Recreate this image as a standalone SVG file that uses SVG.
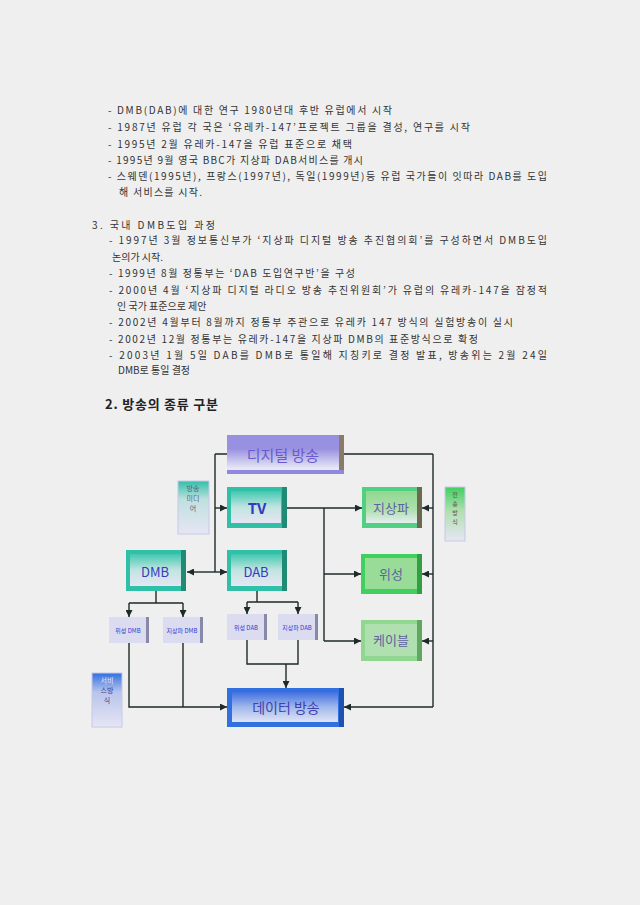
<svg xmlns="http://www.w3.org/2000/svg" width="640" height="905" viewBox="0 0 640 905">
<defs>
<style>
.t{font-family:"Noto Sans CJK KR","Liberation Sans",sans-serif;font-size:10px;fill:#333;}
.h{font-family:"Noto Sans CJK KR","Liberation Sans",sans-serif;font-size:13px;font-weight:bold;fill:#222;}
.bl{font-family:"Noto Sans CJK KR","Liberation Sans",sans-serif;text-anchor:middle;}
.c{fill:none;stroke:#1e2a2a;stroke-width:1.4;}
.ca{fill:none;stroke:#1e2a2a;stroke-width:1.4;marker-end:url(#ah);}
</style>
<marker id="ah" viewBox="0 0 8 8" refX="8" refY="4" markerWidth="5" markerHeight="5" orient="auto"><path d="M0,0 L8,4 L0,8 z" fill="#1e2a2a"/></marker>
<linearGradient id="gP" x1="0" y1="0" x2="0" y2="1"><stop offset="0" stop-color="#9890e0"/><stop offset="0.35" stop-color="#9890e0"/><stop offset="0.85" stop-color="#e6e6f4"/><stop offset="1" stop-color="#e6e6f4"/></linearGradient>
<linearGradient id="gT" x1="0" y1="0" x2="0" y2="1"><stop offset="0" stop-color="#40c8b0"/><stop offset="0.5" stop-color="#c0e4e0"/><stop offset="1" stop-color="#e6e6f4"/></linearGradient>
<linearGradient id="gG" x1="0" y1="0" x2="0" y2="1"><stop offset="0" stop-color="#90d890"/><stop offset="0.6" stop-color="#b0e0b0"/><stop offset="1" stop-color="#e6eef0"/></linearGradient>
<linearGradient id="gB" x1="0" y1="0" x2="0" y2="1"><stop offset="0" stop-color="#4070e0"/><stop offset="0.5" stop-color="#a0b8ec"/><stop offset="1" stop-color="#e0e4f4"/></linearGradient>
<linearGradient id="gL1" x1="0" y1="0" x2="0" y2="1"><stop offset="0" stop-color="#30c0a8"/><stop offset="0.35" stop-color="#c0e0e0"/><stop offset="1" stop-color="#e6e6f4"/></linearGradient>
<linearGradient id="gL2" x1="0" y1="0" x2="0" y2="1"><stop offset="0" stop-color="#40d060"/><stop offset="0.45" stop-color="#b0e0b0"/><stop offset="1" stop-color="#e6e6f4"/></linearGradient>
<linearGradient id="gL3" x1="0" y1="0" x2="0" y2="1"><stop offset="0" stop-color="#3070e0"/><stop offset="0.35" stop-color="#b8c4ec"/><stop offset="1" stop-color="#e6e6f4"/></linearGradient>
</defs>
<rect width="640" height="905" fill="#efefef"/>

<g id="text-history">
<text class="t" x="108" y="114" textLength="284" lengthAdjust="spacing">- DMB(DAB)에 대한 연구 1980년대 후반 유럽에서 시작</text>
<text class="t" x="108" y="131" textLength="362" lengthAdjust="spacing">- 1987년 유럽 각 국은 ‘유레카-147’프로젝트 그룹을 결성, 연구를 시작</text>
<text class="t" x="108" y="148" textLength="244" lengthAdjust="spacing">- 1995년 2월 유레카-147을 유럽 표준으로 채택</text>
<text class="t" x="108" y="164" textLength="255" lengthAdjust="spacing">- 1995년 9월 영국 BBC가 지상파 DAB서비스를 개시</text>
<text class="t" x="108" y="180" textLength="439" lengthAdjust="spacing">- 스웨덴(1995년), 프랑스(1997년), 독일(1999년)등 유럽 국가들이 잇따라 DAB를 도입</text>
<text class="t" x="119" y="196" textLength="83" lengthAdjust="spacing">해 서비스를 시작.</text>
</g>

<g id="text-domestic">
<text class="t" x="92" y="229" textLength="123" lengthAdjust="spacing">3. 국내 DMB도입 과정</text>
<text class="t" x="109" y="244" textLength="438" lengthAdjust="spacing">- 1997년 3월 정보통신부가 ‘지상파 디지털 방송 추진협의회’를 구성하면서 DMB도입</text>
<text class="t" x="112" y="261">논의가 시작.</text>
<text class="t" x="109" y="277" textLength="246" lengthAdjust="spacing">- 1999년 8월 정통부는 ‘DAB 도입연구반’을 구성</text>
<text class="t" x="109" y="294" textLength="438" lengthAdjust="spacing">- 2000년 4월 ‘지상파 디지털 라디오 방송 추진위원회’가 유럽의 유레카-147을 잠정적</text>
<text class="t" x="117" y="310">인 국가 표준으로 제안</text>
<text class="t" x="109" y="326" textLength="404" lengthAdjust="spacing">- 2002년 4월부터 8월까지 정통부 주관으로 유레카 147 방식의 실험방송이 실시</text>
<text class="t" x="109" y="343" textLength="369" lengthAdjust="spacing">- 2002년 12월 정통부는 유레카-147을 지상파 DMB의 표준방식으로 확정</text>
<text class="t" x="109" y="359" textLength="438" lengthAdjust="spacing">- 2003년 1월 5일 DAB를 DMB로 통일해 지칭키로 결정 발표, 방송위는 2월 24일</text>
<text class="t" x="118" y="374">DMB로 통일 결정</text>
</g>

<text class="h" x="105" y="409" textLength="113" lengthAdjust="spacing">2. 방송의 종류 구분</text>

<g id="connectors">
<path class="c" d="M215,454 H227 M344,454 H433"/>
<path class="c" d="M215,454 V572"/>
<path class="ca" d="M215,508 H227"/>
<path class="ca" d="M215,572 H187"/>
<path class="ca" d="M215,572 H227"/>
<path class="ca" d="M287,508 H362"/>
<path class="c" d="M324,508 V641"/>
<path class="ca" d="M324,574 H361"/>
<path class="ca" d="M324,641 H361"/>
<path class="c" d="M433,454 V707"/>
<path class="ca" d="M433,508 H422"/>
<path class="ca" d="M433,574 H422"/>
<path class="ca" d="M433,641 H422"/>
<path class="ca" d="M433,707 H344"/>
<path class="c" d="M156,591 V603 M129,603 H183"/>
<path class="ca" d="M129,603 V617"/>
<path class="ca" d="M183,603 V617"/>
<path class="c" d="M257,591 V602 M247,602 H298"/>
<path class="ca" d="M247,602 V614"/>
<path class="ca" d="M298,602 V614"/>
<path class="c" d="M247,640 V664 H298 V640"/>
<path class="ca" d="M286,664 V688"/>
<path class="c" d="M183,643 V707"/>
<path class="ca" d="M129,643 V707 H227"/>
</g>

<g id="node-digital">
<rect x="227" y="435" width="117" height="39" fill="url(#gP)"/>
<rect x="339" y="435" width="5" height="39" fill="#8a7a6a"/>
<rect x="227" y="470" width="117" height="4" fill="#9088e0"/>
<text class="bl" x="283" y="461" font-size="15" fill="#6a5ad0">디지털 방송</text>
</g>

<g id="node-tv">
<rect x="227" y="487" width="60" height="41" fill="#30c0a8"/>
<rect x="231" y="491" width="50" height="32" fill="url(#gT)"/>
<rect x="282" y="487" width="5" height="41" fill="#208a74"/>
<text class="bl" x="257" y="514" font-size="15" font-weight="bold" fill="#3838c0">TV</text>
</g>

<g id="node-terrestrial">
<rect x="362" y="487" width="60" height="41" fill="#50d080"/>
<rect x="366" y="491" width="51" height="32" fill="url(#gG)"/>
<rect x="417" y="487" width="5" height="41" fill="#6a6a50"/>
<text class="bl" x="391" y="513" font-size="13" fill="#6060a0">지상파</text>
</g>

<g id="node-media-label">
<rect x="178" y="481" width="31" height="53" fill="url(#gL1)" stroke="#c8c8e8" stroke-width="1"/>
<text class="bl" x="193" y="491" font-size="7" fill="#606080">방송</text>
<text class="bl" x="193" y="501" font-size="7" fill="#606080">미디</text>
<text class="bl" x="193" y="511" font-size="7" fill="#606080">어</text>
</g>

<g id="node-transmission-label">
<rect x="445" y="487" width="20" height="54" fill="url(#gL2)" stroke="#c8c8e8" stroke-width="1"/>
<text class="bl" x="455" y="497" font-size="6" fill="#605050">전</text>
<text class="bl" x="455" y="506" font-size="6" fill="#605050">송</text>
<text class="bl" x="455" y="515" font-size="6" fill="#605050">방</text>
<text class="bl" x="455" y="524" font-size="6" fill="#605050">식</text>
</g>

<g id="node-dmb">
<rect x="126" y="550" width="60" height="41" fill="#30c0a8"/>
<rect x="130" y="554" width="51" height="32" fill="url(#gT)"/>
<rect x="181" y="550" width="5" height="41" fill="#208a74"/>
<text class="bl" x="155" y="577" font-size="13" fill="#3838c0">DMB</text>
</g>

<g id="node-dab">
<rect x="227" y="550" width="60" height="41" fill="#30c0a8"/>
<rect x="231" y="554" width="51" height="32" fill="url(#gT)"/>
<rect x="282" y="550" width="5" height="41" fill="#208a74"/>
<text class="bl" x="256" y="577" font-size="13" fill="#3838c0">DAB</text>
</g>

<g id="node-satellite">
<rect x="361" y="554" width="61" height="40" fill="#40d060"/>
<rect x="365" y="558" width="52" height="31" fill="#98dc98"/>
<rect x="417" y="554" width="5" height="40" fill="#30a040"/>
<text class="bl" x="391" y="579" font-size="13" fill="#6060a0">위성</text>
</g>

<g id="node-cable">
<rect x="361" y="620" width="61" height="41" fill="#90d890"/>
<rect x="365" y="624" width="52" height="32" fill="#b0e0b0"/>
<rect x="417" y="620" width="5" height="41" fill="#60a860"/>
<text class="bl" x="391" y="645" font-size="13" fill="#6060a0">케이블</text>
</g>

<g id="node-sat-dmb">
<rect x="109" y="617" width="40" height="26" fill="#dcdcf0"/>
<rect x="146" y="617" width="3" height="26" fill="#8888a8"/>
<text class="bl" x="128" y="633" font-size="6" fill="#3040d0">위성 DMB</text>
</g>

<g id="node-ter-dmb">
<rect x="163" y="617" width="40" height="26" fill="#dcdcf0"/>
<rect x="200" y="617" width="3" height="26" fill="#8888a8"/>
<text class="bl" x="182" y="633" font-size="6" fill="#3040d0">지상파 DMB</text>
</g>

<g id="node-sat-dab">
<rect x="227" y="614" width="40" height="26" fill="#dcdcf0"/>
<rect x="264" y="614" width="3" height="26" fill="#8888a8"/>
<text class="bl" x="246" y="630" font-size="6" fill="#3040d0">위성 DAB</text>
</g>

<g id="node-ter-dab">
<rect x="278" y="614" width="40" height="26" fill="#dcdcf0"/>
<rect x="315" y="614" width="3" height="26" fill="#8888a8"/>
<text class="bl" x="297" y="630" font-size="6" fill="#3040d0">지상파 DAB</text>
</g>

<g id="node-data">
<rect x="227" y="688" width="117" height="39" fill="#3070e0"/>
<rect x="232" y="692" width="106" height="30" fill="url(#gB)"/>
<rect x="339" y="688" width="5" height="39" fill="#2050b0"/>
<text class="bl" x="286" y="713" font-size="14" fill="#4040b0">데이터 방송</text>
</g>

<g id="node-service-label">
<rect x="92" y="673" width="30" height="54" fill="url(#gL3)" stroke="#c8c8e8" stroke-width="1"/>
<text class="bl" x="107" y="683" font-size="7" fill="#e8e8f8">서비</text>
<text class="bl" x="107" y="693" font-size="7" fill="#404080">스방</text>
<text class="bl" x="107" y="703" font-size="7" fill="#404080">식</text>
</g>
</svg>
